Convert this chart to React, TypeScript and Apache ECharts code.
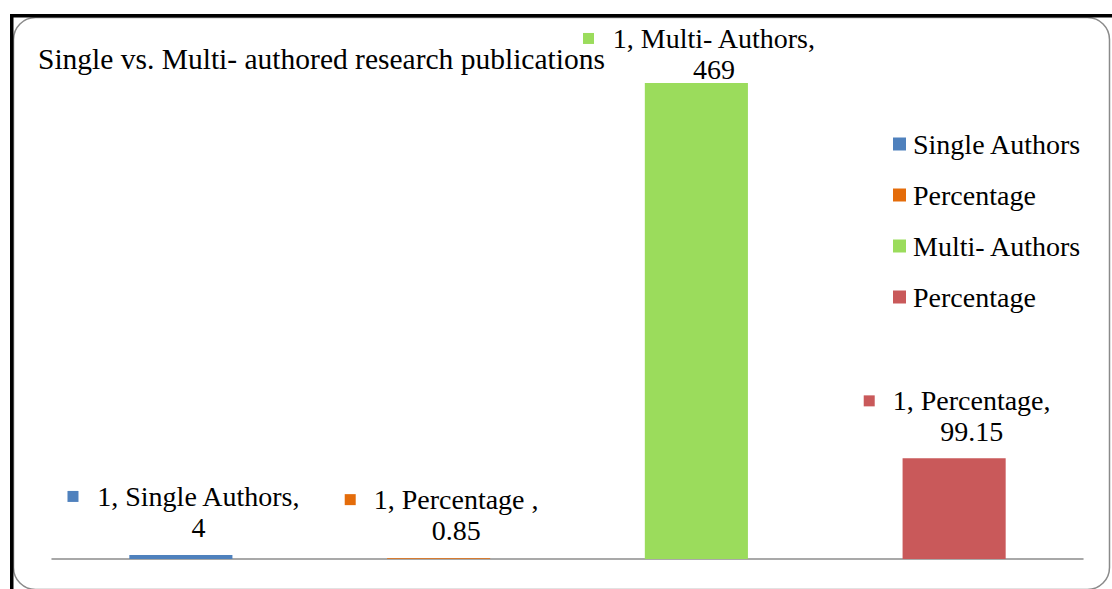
import React, { useEffect, useRef } from "react";
import * as echarts from "echarts";

const categories = ["1"];
const seriesNames = ["Single Authors", "Percentage", "Multi- Authors", "Percentage "];
const labelNames = ["Single Authors,", "Percentage ,", "Multi- Authors,", "Percentage,"];
const seriesValues = [4, 0.85, 469, 99.15];
const seriesColors = ["#4f81bd", "#e46c0a", "#9bdc5c", "#c9595a"];
const labelDistances = [12, 12, -2, 11];
const titleText = "Single vs. Multi- authored research publications";

const FONT = "Liberation Serif";
const FS = 28;

export default function App() {
  const ref = useRef<HTMLDivElement>(null);
  useEffect(() => {
    if (!ref.current) return;
    const chart = echarts.init(ref.current, null, { renderer: "svg" });
    const series = seriesValues.map((v, i) => ({
      name: seriesNames[i],
      type: "bar",
      data: [v],
      barGap: "150%",
      barCategoryGap: "15%",
      itemStyle: { color: seriesColors[i] },
      label: {
        show: true,
        position: "top",
        distance: labelDistances[i],
        offset: [3, 0],
        formatter: () => `{m|}{g|}{t|${categories[0]}, ${labelNames[i]}}\n{s|}{t|${v}}`,
        rich: {
          m: { width: 11, height: 11, backgroundColor: seriesColors[i], verticalAlign: "middle" },
          g: { width: 18, height: 11 },
          s: { width: 29, height: 11 },
          t: { fontFamily: FONT, fontSize: FS, color: "#000", lineHeight: 31 },
        },
      },
    }));
    chart.setOption({
      animation: false,
      textStyle: { fontFamily: FONT },
      title: {
        text: titleText,
        left: 33,
        top: 39,
        textStyle: { fontFamily: FONT, fontSize: 29.5, fontWeight: "normal", color: "#000" },
      },
      legend: {
        orient: "vertical",
        left: 888,
        top: 125,
        itemWidth: 13,
        itemHeight: 13,
        itemGap: 23,
        icon: "rect",
        textStyle: { fontFamily: FONT, fontSize: FS, color: "#000", padding: [0, 0, 0, 2] },
        data: seriesNames.map((n, i) => ({ name: n, itemStyle: { color: seriesColors[i] } })),
      },
      grid: { left: 52, right: 29, top: 51.5, bottom: 30 },
      xAxis: {
        type: "category",
        data: categories,
        axisLine: { lineStyle: { color: "#8c8c8c", width: 1.5 } },
        axisTick: { show: false },
        axisLabel: { show: false },
      },
      yAxis: { type: "value", min: 0, max: 500, show: false, splitLine: { show: false } },
      graphic: [
        {
          type: "rect",
          shape: { x: 13.5, y: 17.5, width: 1096, height: 572, r: 22 },
          style: { fill: "none", stroke: "#8a8a8a", lineWidth: 1.5 },
          z: 0,
        },
        { type: "rect", shape: { x: 10, y: 14, width: 1102, height: 3.5 }, style: { fill: "#000" } },
        { type: "rect", shape: { x: 10, y: 14, width: 3.5, height: 575 }, style: { fill: "#000" } },
      ],
      series,
    });
    return () => chart.dispose();
  }, []);
  return (
    <div
      ref={ref}
      style={{ position: "fixed", left: 0, top: 0, width: 1112, height: 589, background: "#fff" }}
    />
  );
}
